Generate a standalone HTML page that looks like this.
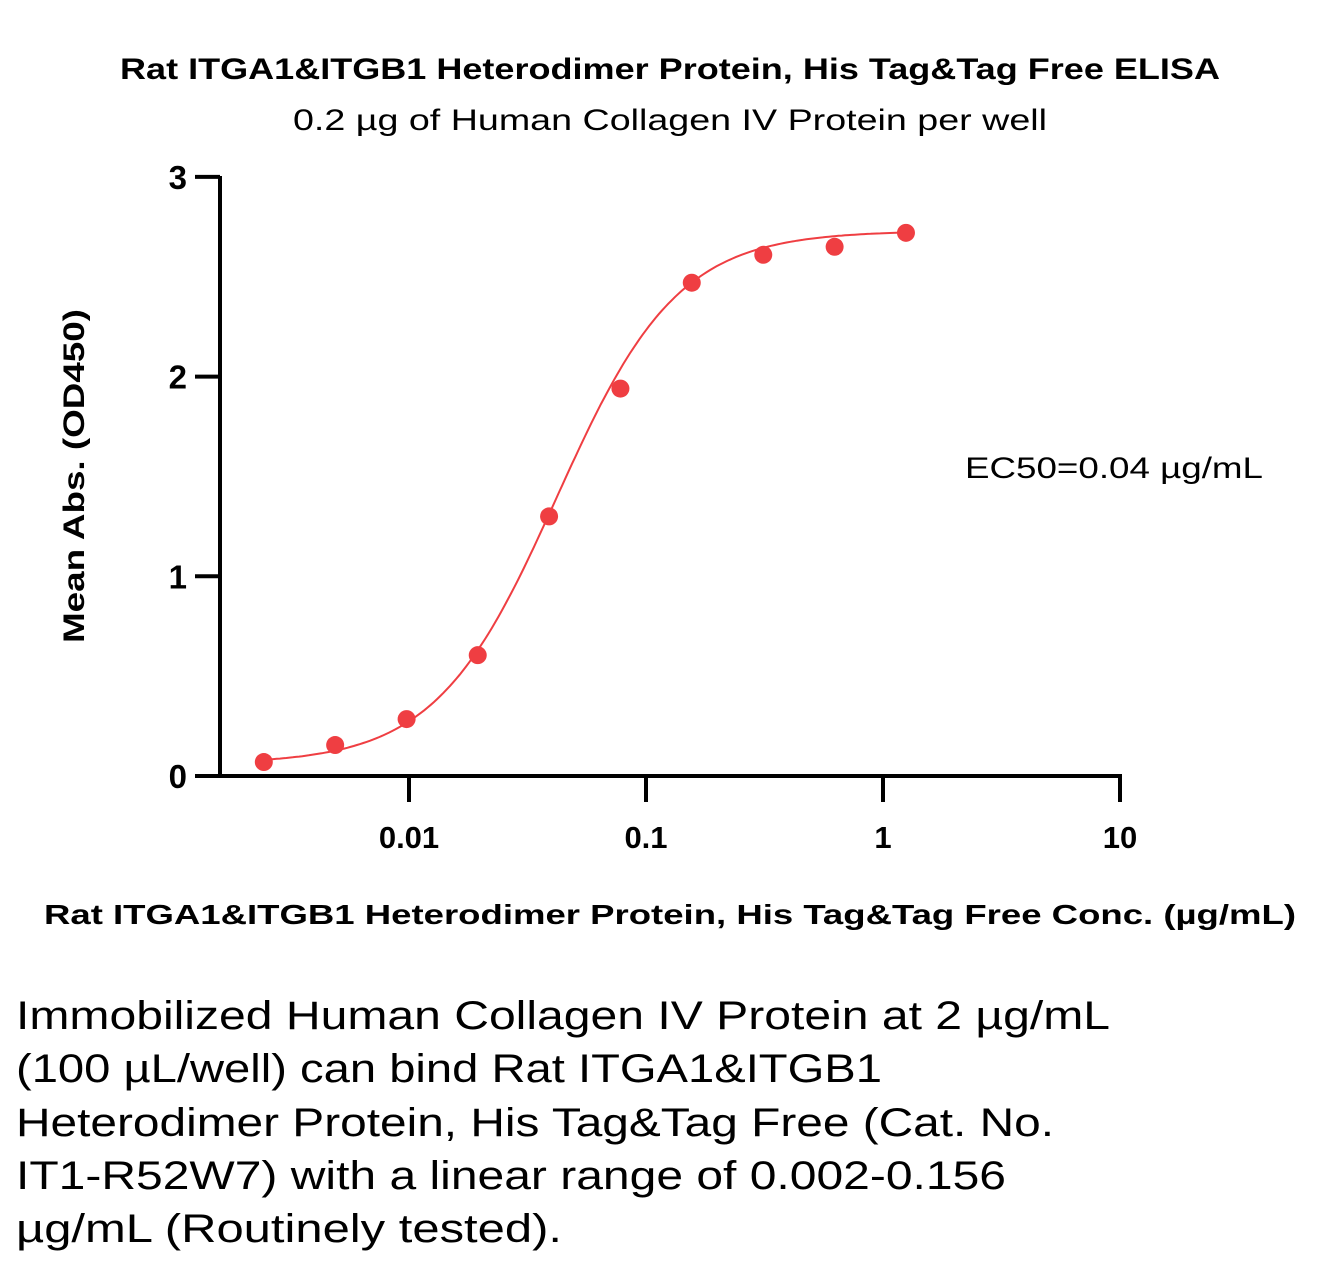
<!DOCTYPE html>
<html><head><meta charset="utf-8"><style>
html,body{margin:0;padding:0;background:#fff;}
svg{display:block;font-family:"Liberation Sans",sans-serif;}
</style></head><body>
<svg id="chart" width="1340" height="1266" viewBox="0 0 1340 1266">
<text x="670" y="79" text-anchor="middle" font-size="30" font-weight="bold" textLength="1100" lengthAdjust="spacingAndGlyphs">Rat ITGA1&amp;ITGB1 Heterodimer Protein, His Tag&amp;Tag Free ELISA</text>
<text x="670" y="130" text-anchor="middle" font-size="30" textLength="754" lengthAdjust="spacingAndGlyphs">0.2 µg of Human Collagen IV Protein per well</text>
<g id="axes"></g>
<g id="marks"></g>
<text transform="translate(84,476) rotate(-90)" text-anchor="middle" font-size="30" font-weight="bold" textLength="334" lengthAdjust="spacingAndGlyphs">Mean Abs. (OD450)</text>
<text x="670" y="924" text-anchor="middle" font-size="28" font-weight="bold" textLength="1252" lengthAdjust="spacingAndGlyphs">Rat ITGA1&amp;ITGB1 Heterodimer Protein, His Tag&amp;Tag Free Conc. (µg/mL)</text>
<text x="965" y="478" font-size="30" textLength="298" lengthAdjust="spacingAndGlyphs">EC50=0.04 µg/mL</text>
<g font-size="40">
<text x="16" y="1029" textLength="1094" lengthAdjust="spacingAndGlyphs">Immobilized Human Collagen IV Protein at 2 µg/mL</text>
<text x="16" y="1082" textLength="866" lengthAdjust="spacingAndGlyphs">(100 µL/well) can bind Rat ITGA1&amp;ITGB1</text>
<text x="16" y="1136" textLength="1038" lengthAdjust="spacingAndGlyphs">Heterodimer Protein, His Tag&amp;Tag Free (Cat. No.</text>
<text x="16" y="1189" textLength="990" lengthAdjust="spacingAndGlyphs">IT1-R52W7) with a linear range of 0.002-0.156</text>
<text x="16" y="1242" textLength="546" lengthAdjust="spacingAndGlyphs">µg/mL (Routinely tested).</text>
</g>
</svg>
<script>
const concentrations=[0.00244,0.00488,0.00977,0.0195,0.039,0.078,0.156,0.3125,0.625,1.25];
const absorbances=[0.07,0.155,0.285,0.605,1.30,1.94,2.47,2.61,2.65,2.72];
const xTicks=[0.01,0.1,1,10];
const xTickLabels=["0.01","0.1","1","10"];
const yTicks=[0,1,2,3];
const yTickLabels=["0","1","2","3"];
const fitBottom=[0.06], fitTop=[2.73], fitEC50=[0.042], fitHill=[1.7];
const NS="http://www.w3.org/2000/svg";
const RED="#ef3e42";
function xs(v){return 409+(Math.log10(v)+2)*237;}
function ys(v){return 776-v*199.7;}
function mk(tag,attrs,parent){const e=document.createElementNS(NS,tag);for(const k in attrs)e.setAttribute(k,attrs[k]);parent.appendChild(e);return e;}
const axes=document.getElementById('axes'), marks=document.getElementById('marks');
let e=mk('line',{x1:220,y1:176,x2:220,y2:778,stroke:'#000','stroke-width':4},axes);


e=mk('line',{x1:195,y1:776,x2:1122,y2:776,stroke:'#000','stroke-width':4},axes);


yTicks.forEach((t,i)=>{
  const l=mk('line',{x1:195,y1:ys(t),x2:220,y2:ys(t),stroke:'#000','stroke-width':4},axes);
  
  
  const tx=mk('text',{x:187,y:ys(t)+12,'text-anchor':'end','font-size':33,'font-weight':'bold'},axes);
  tx.textContent=yTickLabels[i];
  
  
});
xTicks.forEach((t,i)=>{
  const l=mk('line',{x1:xs(t),y1:776,x2:xs(t),y2:802,stroke:'#000','stroke-width':4},axes);
  
  
  const tx=mk('text',{x:xs(t),y:848,'text-anchor':'middle','font-size':31,'font-weight':'bold'},axes);
  tx.textContent=xTickLabels[i];
  
  
});
function fit(x){return fitBottom[0]+(fitTop[0]-fitBottom[0])/(1+Math.pow(fitEC50[0]/x,fitHill[0]));}
let d='';const lo=Math.log10(concentrations[0]),hi=Math.log10(concentrations[concentrations.length-1]);
for(let i=0;i<=200;i++){const lx=lo+(hi-lo)*i/200,x=Math.pow(10,lx);d+=(i?'L':'M')+xs(x).toFixed(1)+','+ys(fit(x)).toFixed(1);}
e=mk('path',{d:d,fill:'none',stroke:RED,'stroke-width':2},marks);


concentrations.forEach((c,i)=>{
  const p=mk('circle',{cx:xs(c),cy:ys(absorbances[i]),r:9,fill:RED},marks);
  
  
});
</script>
</body></html>
